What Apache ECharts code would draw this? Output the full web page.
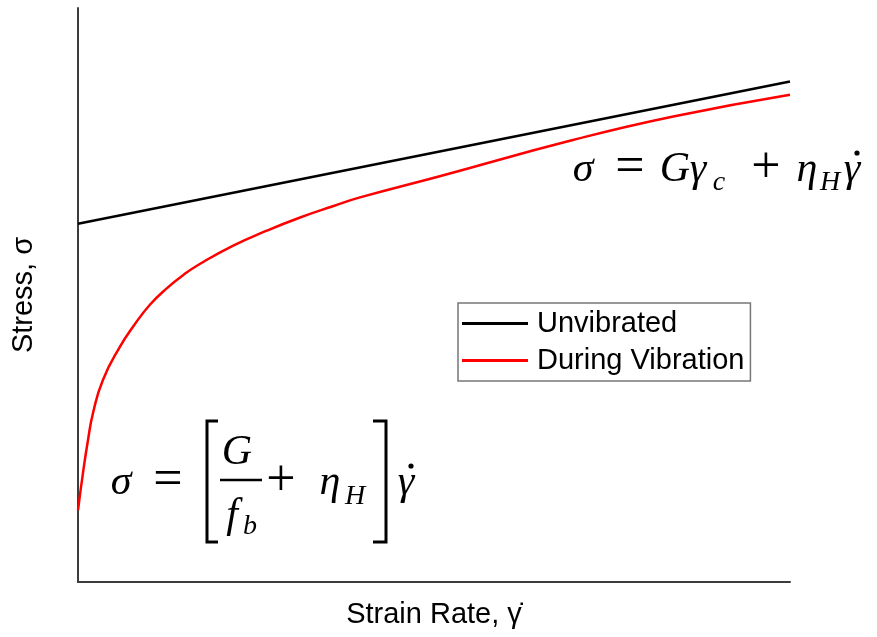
<!DOCTYPE html>
<html>
<head>
<meta charset="utf-8">
<script src="https://cdn.jsdelivr.net/npm/echarts@6/dist/echarts.min.js"></script>
<style>
  html, body { margin: 0; padding: 0; background: #fff; }
  #chart { width: 877px; height: 637px; }
</style>
</head>
<body>
<div id="chart"></div>
<script>
// Schematic stress vs strain-rate curves (arbitrary units, 0-100 on both axes)
const seriesNames = ['Unvibrated', 'During Vibration'];

const unvibratedRate = [0, 100];
const unvibratedStress = [62.4, 87.2];

const vibrationRate = [0, 0.7, 1.4, 2.1, 3.5, 5.9, 7.8, 10.1, 12.5, 14.8, 17.1, 21.8, 26.5, 31.2, 35.9, 39.6, 50.8, 69.5, 83.6, 100];
const vibrationStress = [12.5, 19.0, 24.7, 29.4, 35.2, 41.0, 44.6, 48.3, 51.2, 53.5, 55.4, 58.6, 61.2, 63.5, 65.5, 67.0, 70.7, 77.0, 81.1, 84.9];

const xTitle = 'Strain Rate, \u03B3\u0307';
const yTitle = 'Stress, \u03C3';

const pairs = (xs, ys) => xs.map((x, i) => [x, ys[i]]);

const SANS = 'Liberation Sans, Arial, sans-serif';
const SERIF = 'Liberation Serif, Times New Roman, serif';

// one glyph of a formula annotation
function glyph(text, x, y, size, italic) {
  return {
    type: 'text', x: x, y: y, z: 10,
    style: {
      text: text, fontSize: size, fontFamily: SERIF,
      fontStyle: italic ? 'italic' : 'normal',
      fill: '#000', align: 'center', verticalAlign: 'middle'
    }
  };
}
function dot(x, y) {
  return { type: 'circle', z: 10, shape: { cx: x, cy: y, r: 2.6 }, style: { fill: '#000' } };
}
function stroke(points, w) {
  return { type: 'polyline', z: 10, shape: { points: points }, style: { stroke: '#000', lineWidth: w, fill: null } };
}

const F = 42, S = 28, OP = 52;
const formulaGraphics = [
  // sigma = G gamma_c + eta_H gamma-dot
  glyph('\u03C3', 583, 170, F, true),
  glyph('=', 630, 168, OP, false),
  glyph('G', 675, 170, F, true),
  glyph('\u03B3', 698, 170, F, true),
  glyph('c', 719, 183, S, true),
  glyph('+', 766, 168, OP, false),
  glyph('\u03B7', 807, 170, F, true),
  glyph('H', 830, 183, S, true),
  glyph('\u03B3', 852, 170, F, true),
  dot(857, 153),

  // sigma = [G/f_b + eta_H] gamma-dot
  glyph('\u03C3', 121, 483, F, true),
  glyph('=', 168, 481, OP, false),
  stroke([[218, 421], [207, 421], [207, 542], [218, 542]], 3),
  glyph('G', 237, 453, F, true),
  stroke([[220, 480], [262, 480]], 2.5),
  glyph('f', 232, 516, F, true),
  glyph('b', 250, 527, S, true),
  glyph('+', 281, 481, OP, false),
  glyph('\u03B7', 330, 483, F, true),
  glyph('H', 355, 497, S, true),
  stroke([[373, 421], [386, 421], [386, 542], [373, 542]], 3),
  glyph('\u03B3', 406, 483, F, true),
  dot(411, 466)
];

const chart = echarts.init(document.getElementById('chart'), null, { renderer: 'canvas' });

const axisCommon = {
  type: 'value', min: 0, max: 100,
  axisLine: { show: true, lineStyle: { color: '#3c3c3c', width: 2 } },
  axisTick: { show: false },
  axisLabel: { show: false },
  splitLine: { show: false },
  nameLocation: 'middle',
  nameTextStyle: { fontFamily: SANS, fontSize: 29, color: '#000' }
};

chart.setOption({
  backgroundColor: '#fff',
  animation: false,
  grid: { left: 78, right: 87, top: 8, bottom: 55 },
  xAxis: Object.assign({}, axisCommon, { name: xTitle, nameGap: 18 }),
  yAxis: Object.assign({}, axisCommon, { name: yTitle, nameGap: 40 }),
  legend: {
    orient: 'vertical', left: 458, top: 303,
    padding: [6, 6, 6, 4],
    icon: 'rect',
    itemWidth: 66, itemHeight: 3, itemGap: 8,
    backgroundColor: '#fff', borderColor: '#777', borderWidth: 1.5,
    textStyle: { fontFamily: SANS, fontSize: 29, color: '#000', padding: [0, 0, 0, 4] },
    data: seriesNames
  },
  series: [
    {
      name: seriesNames[0], type: 'line', symbol: 'none',
      data: pairs(unvibratedRate, unvibratedStress),
      lineStyle: { color: '#000', width: 2.5 }, itemStyle: { color: '#000' }
    },
    {
      name: seriesNames[1], type: 'line', symbol: 'none',
      smooth: 0.5,
      data: pairs(vibrationRate, vibrationStress),
      lineStyle: { color: '#ff0000', width: 2.5 }, itemStyle: { color: '#ff0000' }
    }
  ],
  graphic: formulaGraphics
});
</script>
</body>
</html>
